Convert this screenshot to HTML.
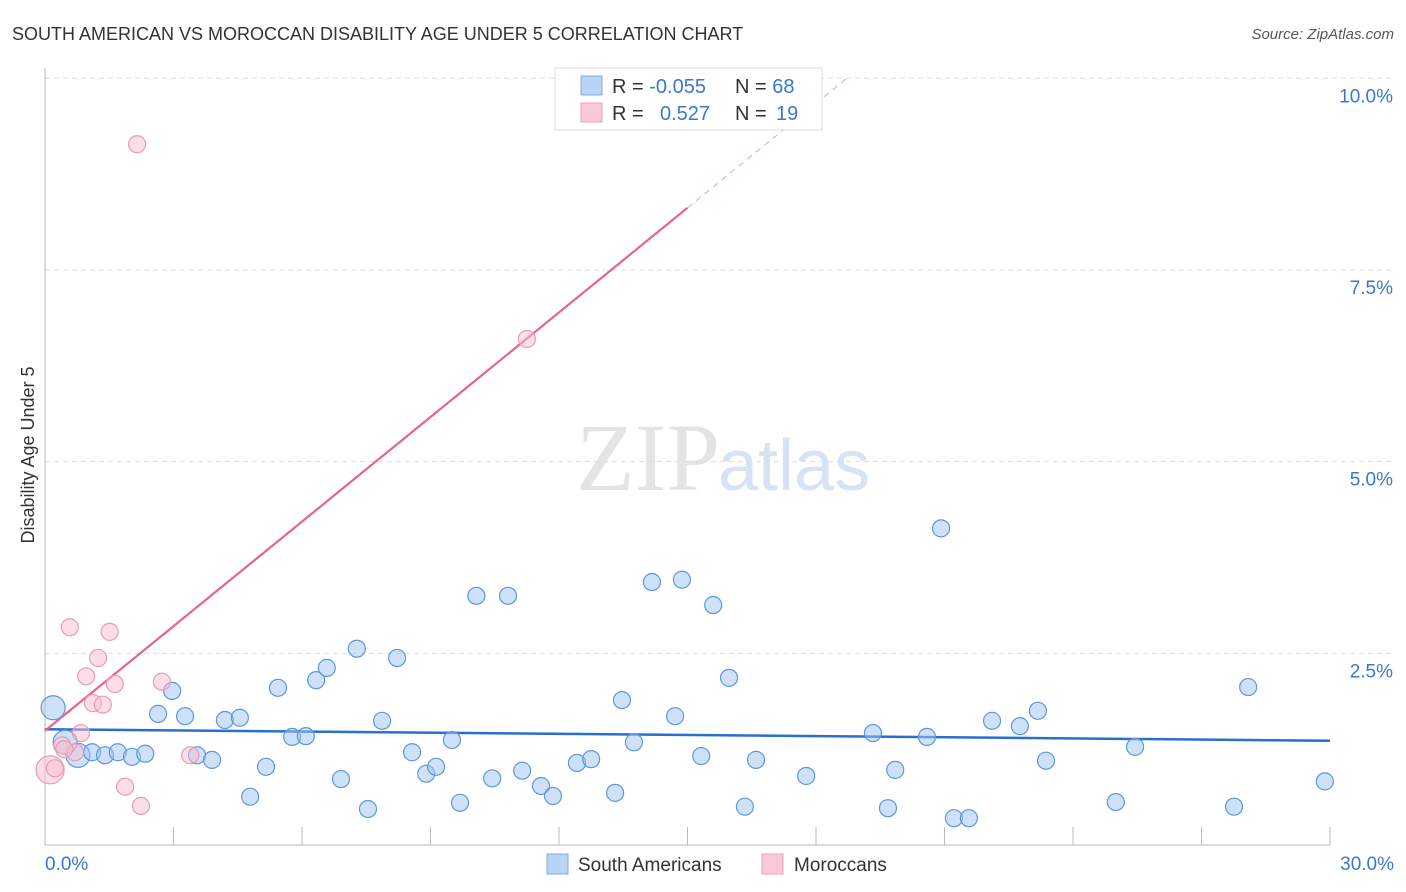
<!DOCTYPE html>
<html><head><meta charset="utf-8"><style>
body{margin:0;background:#fff;font-family:"Liberation Sans",sans-serif}
svg{display:block}
</style></head><body>
<svg id="chart" width="1406" height="892">
<text x="12" y="40" font-size="18" fill="#333">SOUTH AMERICAN VS MOROCCAN DISABILITY AGE UNDER 5 CORRELATION CHART</text>
<text x="1394" y="39" font-size="15" fill="#555" font-style="italic" text-anchor="end">Source: ZipAtlas.com</text>
<text x="720" y="490" font-size="96" fill="#e4e4e4" text-anchor="end" font-family="Liberation Serif,serif">ZIP</text>
<text x="718" y="490" font-size="72" fill="#d6e3f5">atlas</text>
<g id="grid"></g>
<g id="axes"></g>
<g id="lines"></g>
<g id="pts"></g>
<text transform="translate(34,455) rotate(-90)" font-size="18" fill="#333" text-anchor="middle">Disability Age Under 5</text>
<g>
<rect x="555" y="68" width="267" height="62" fill="#fff" stroke="#ddd"/>
<rect x="581" y="76" width="21" height="19" fill="#b8d3f3" stroke="#7faee6"/>
<rect x="581" y="103" width="21" height="19" fill="#f9c9d7" stroke="#ee9fb7"/>
<text x="612" y="93" font-size="20" fill="#333">R = <tspan fill="#3a78cf">-0.055</tspan></text>
<text x="735" y="93" font-size="20" fill="#333">N = <tspan fill="#3a78cf">68</tspan></text>
<text x="612" y="120" font-size="20" fill="#333">R = <tspan fill="#3a78cf" x="660">0.527</tspan></text>
<text x="735" y="120" font-size="20" fill="#333">N = <tspan fill="#3a78cf" x="776">19</tspan></text>
</g>
<g>
<rect x="547" y="854" width="21" height="20" fill="#b8d3f3" stroke="#7faee6"/>
<text x="578" y="871" font-size="19" fill="#333">South Americans</text>
<rect x="762" y="854" width="21" height="20" fill="#f9c9d7" stroke="#ee9fb7"/>
<text x="794" y="871" font-size="19" fill="#333">Moroccans</text>
</g>
</svg>
<script>
const blueX=[0.19,0.47,0.77,1.10,1.40,1.70,2.03,2.34,2.64,2.97,3.27,3.55,3.90,4.20,4.55,4.79,5.16,5.44,5.77,6.09,6.33,6.58,6.91,7.28,7.54,7.87,8.22,8.57,8.90,9.13,9.50,9.69,10.07,10.44,10.81,11.14,11.58,11.86,12.42,12.75,13.31,13.47,13.75,14.17,14.71,14.87,15.32,15.60,15.97,16.34,16.60,17.77,19.33,19.68,19.85,20.59,20.92,21.22,21.57,22.11,22.76,23.18,23.37,25.00,25.45,27.76,28.09,29.88];
const blueY=[1.79,1.34,1.17,1.21,1.17,1.21,1.15,1.19,1.71,2.01,1.68,1.17,1.11,1.63,1.66,0.63,1.02,2.05,1.41,1.42,2.15,2.31,0.86,2.56,0.47,1.62,2.44,1.21,0.93,1.02,1.37,0.55,3.25,0.87,3.25,0.97,0.77,0.64,1.07,1.12,0.68,1.89,1.34,3.43,1.68,3.46,1.16,3.13,2.18,0.50,1.11,0.90,1.46,0.48,0.98,1.41,4.13,0.35,0.35,1.62,1.55,1.75,1.10,0.56,1.28,0.50,2.06,0.83];
const pinkX=[2.15,11.25,0.12,0.23,0.40,0.58,0.70,0.84,0.96,1.12,1.24,1.35,1.51,1.63,1.87,2.24,2.73,3.39,0.45];
const pinkY=[9.14,6.60,0.98,1.00,1.30,2.84,1.21,1.46,2.20,1.85,2.44,1.83,2.78,2.10,0.76,0.51,2.13,1.17,1.25];
const yTicks=[2.5,5.0,7.5,10.0];
const xTickLabels=["0.0%","30.0%"];
const blueTrend=[1.51,1.36];
const pinkTrend=[1.49,0.4547];
const X=v=>45+v/30*1285, Y=v=>845-v/10*766.7;
const NS="http://www.w3.org/2000/svg";
function mk(p,t,a){const e=document.createElementNS(NS,t);for(const k in a)e.setAttribute(k,a[k]);p.appendChild(e);return e;}
const grid=document.getElementById('grid'),axes=document.getElementById('axes'),lines=document.getElementById('lines'),pts=document.getElementById('pts');
yTicks.forEach(t=>{
const l=mk(grid,'line',{x1:45,x2:1394,y1:Y(t),y2:Y(t),stroke:'#ddd','stroke-dasharray':'5,4'});


const tx=mk(grid,'text',{x:1393,y:Y(t)+24,'font-size':19,fill:'#3a78cf','text-anchor':'end'});
tx.textContent=t.toFixed(1)+'%';


});
let a=mk(axes,'line',{x1:45,x2:45,y1:68,y2:845,stroke:'#bbb'});


a=mk(axes,'line',{x1:45,x2:1330,y1:845,y2:845,stroke:'#bbb'});


for(let i=1;i<=10;i++){const t=mk(axes,'line',{x1:X(i*3),x2:X(i*3),y1:827,y2:845,stroke:'#bbb'});

}
[[0,'start',45],[30,'end',1394]].forEach((d,i)=>{const t=mk(axes,'text',{x:d[2],y:870,'font-size':19,fill:'#3a78cf','text-anchor':d[1]});t.textContent=xTickLabels[i];

});
blueX.forEach((x,i)=>{const big=i<3;const c=mk(pts,'circle',{cx:X(x),cy:Y(blueY[i]),r:big?12:8.5,fill:'rgba(160,196,240,0.5)',stroke:'#5d97e0','stroke-width':1.2});

});
pinkX.forEach((x,i)=>{const big=i==2;const c=mk(pts,'circle',{cx:X(x),cy:Y(pinkY[i]),r:big?14:8.5,fill:'rgba(248,190,208,0.5)',stroke:'#ec9ab4','stroke-width':1.2});

});
let l=mk(lines,'line',{x1:X(0),x2:X(30),y1:Y(blueTrend[0]),y2:Y(blueTrend[1]),stroke:'#2a6fd0','stroke-width':2.5});


const pe=15.0,pd=(10-pinkTrend[0])/pinkTrend[1];
l=mk(lines,'line',{x1:X(0),x2:X(pe),y1:Y(pinkTrend[0]),y2:Y(pinkTrend[0]+pinkTrend[1]*pe),stroke:'#e8638f','stroke-width':2.2});


l=mk(lines,'line',{x1:X(pe),x2:X(pd),y1:Y(pinkTrend[0]+pinkTrend[1]*pe),y2:Y(10),stroke:'#e8a0b8','stroke-width':1,'stroke-dasharray':'6,5'});


</script>
</body></html>
